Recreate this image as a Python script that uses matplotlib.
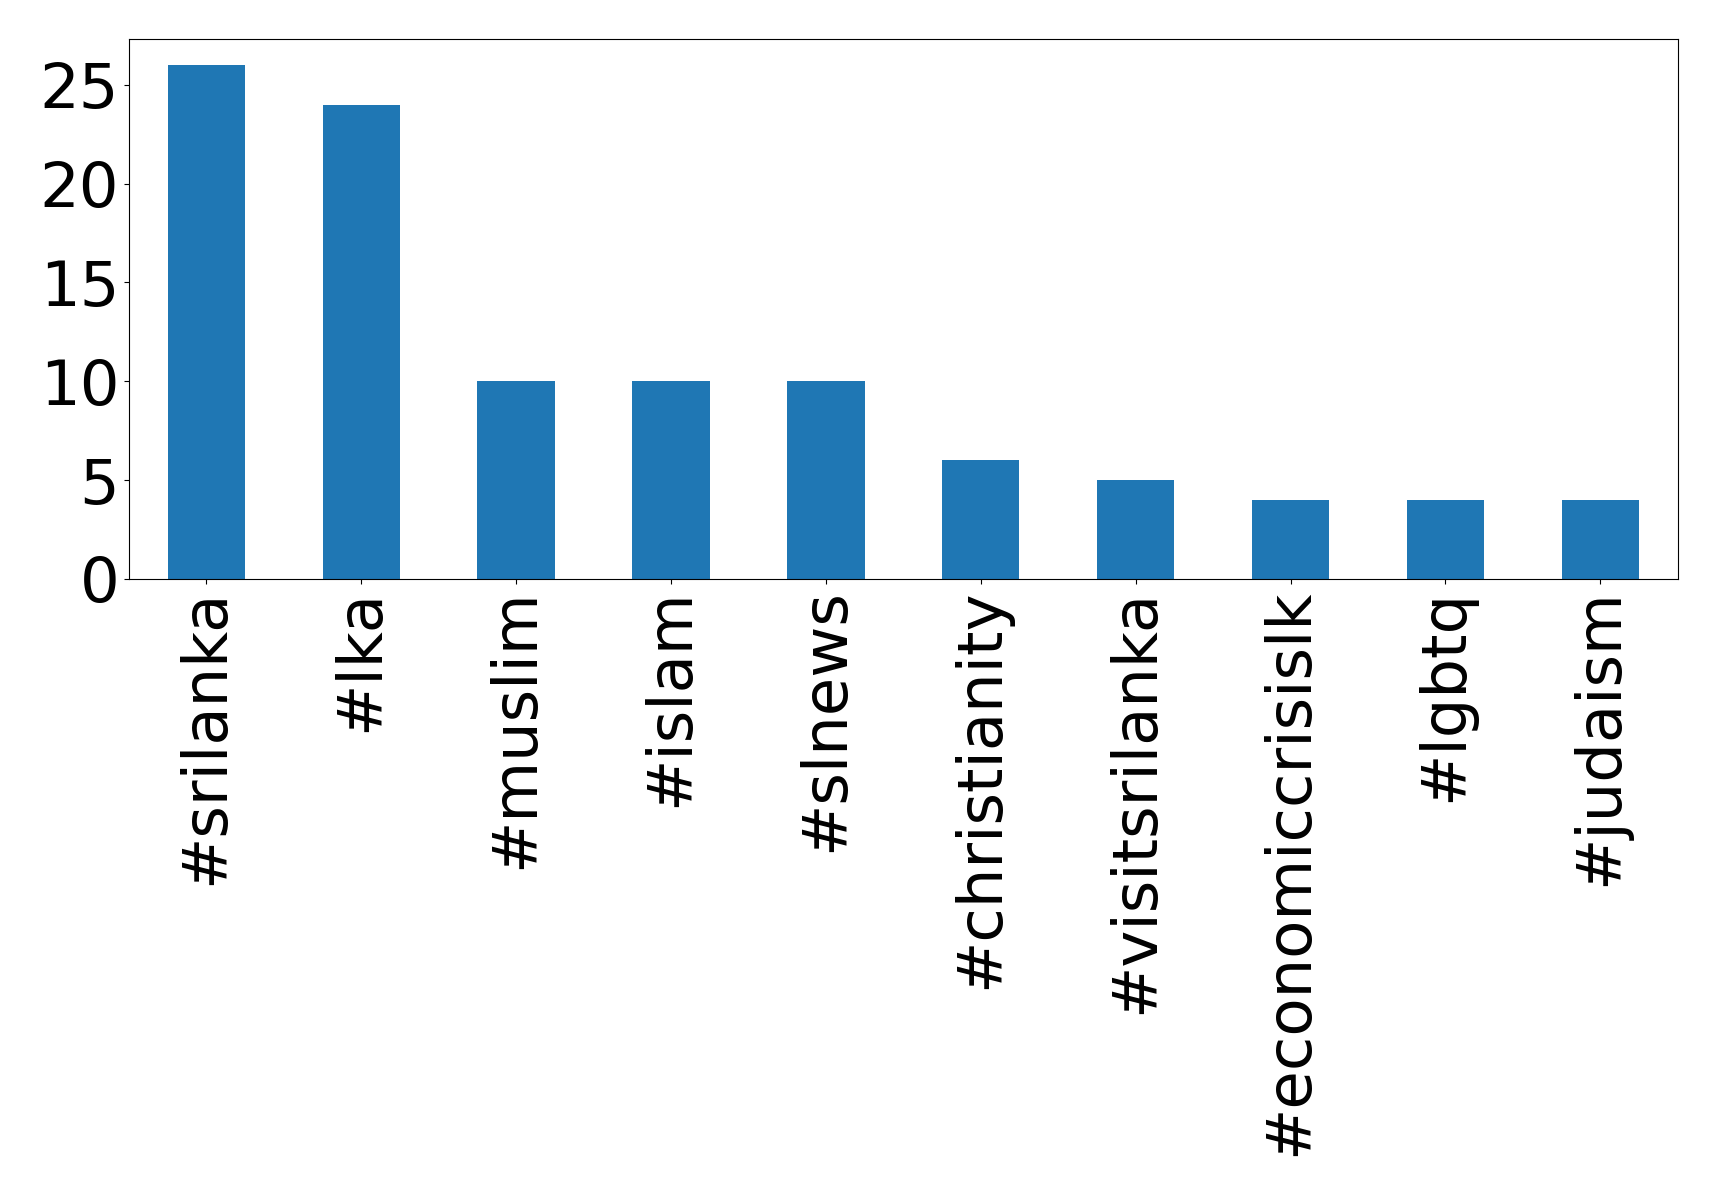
import matplotlib
matplotlib.use("Agg")
import matplotlib.pyplot as plt

categories = ["#srilanka", "#lka", "#muslim", "#islam", "#slnews", "#christianity",
              "#visitsrilanka", "#economiccrisislk", "#lgbtq", "#judaism"]
counts = [26, 24, 10, 10, 10, 6, 5, 4, 4, 4]

fig = plt.figure(figsize=(17.19, 11.96), dpi=100)
ax = fig.add_axes([0.075, 0.516, 0.901, 0.451])
x = list(range(len(categories)))
ax.bar(x, counts, width=0.5, color="#1f77b4")
ax.set_xlim(-0.5, len(categories) - 0.5)
ax.set_xticks(x)
ax.set_xticklabels(categories, rotation=90, fontsize=45)
ax.set_yticks([0, 5, 10, 15, 20, 25])
ax.tick_params(axis="y", labelsize=45)
fig.savefig("out.png", dpi=100)
